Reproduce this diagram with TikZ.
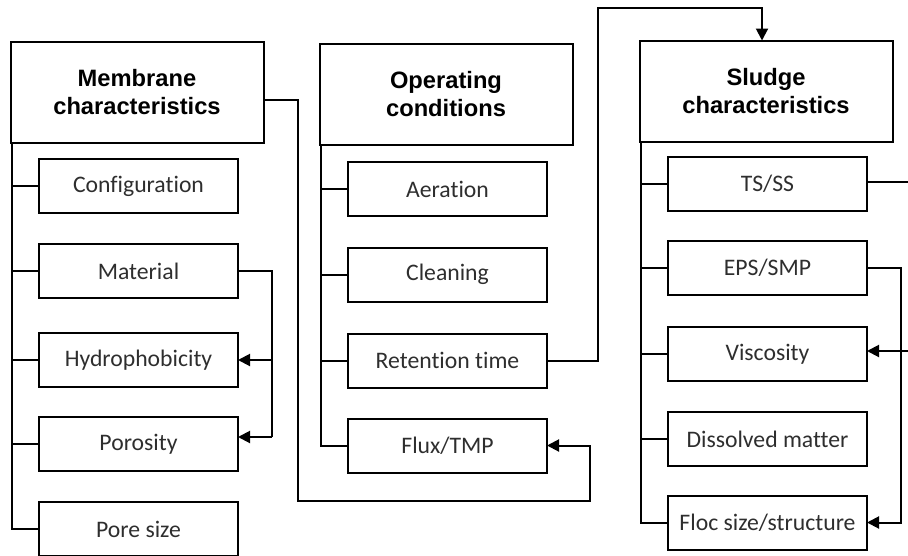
\documentclass[tikz,border=0pt]{standalone}
\usepackage{fontspec}
\setmainfont{Carlito}[Ligatures={NoCommon,NoRequired,NoContextual}]
\newfontfamily\headfont{Liberation Sans}
\usetikzlibrary{arrows.meta}

\tikzset{
  headbox/.style={draw, line width=2pt, inner sep=0pt, outer sep=0pt,
    minimum width=253pt, minimum height=101pt, align=center,
    font=\headfont\bfseries\fontsize{23.7}{28}\selectfont},
  itembox/.style={draw, line width=2pt, inner sep=0pt, outer sep=0pt,
    minimum width=199pt, minimum height=54pt, text=black!82,
    font=\fontsize{23.7}{28}\selectfont},
  link/.style={line width=2pt},
  arrowlink/.style={line width=2pt, -{Triangle[length=12pt,width=12pt]}}
}

\begin{document}
\begin{tikzpicture}[x=1pt, y=-1pt]
\useasboundingbox (0,0) rectangle (908,555);
\clip (0,0) rectangle (908,555);

% column headers
\node[headbox] (mem) at (137,92) {Membrane\\characteristics};
\node[headbox] (ope) at (446,94) {Operating\\conditions};
\node[headbox] (slu) at (766,91) {Sludge\\characteristics};

% membrane items
\node[itembox] (cfg) at (138.5,186) {Configuration};
\node[itembox] (mat) at (138.5,271) {Material};
\node[itembox] (hyd) at (138.5,360) {Hydrophobicity};
\node[itembox] (por) at (138.5,444) {Porosity};
\node[itembox] (pore) at (138.5,529) {Pore size};

% operating items
\node[itembox] (aer) at (447.5,189) {Aeration};
\node[itembox] (cln) at (447.5,274.5) {Cleaning};
\node[itembox] (ret) at (447.5,360.5) {Retention time};
\node[itembox] (flx) at (447.5,445.5) {Flux/TMP};

% sludge items
\node[itembox] (tss) at (767.5,184) {TS/SS};
\node[itembox] (eps) at (767.5,268) {EPS/SMP};
\node[itembox] (vis) at (767.5,354) {Viscosity};
\node[itembox] (dis) at (767.5,439) {Dissolved matter};
\node[itembox] (flc) at (767.5,522.5) {Floc size/structure};

% tree trunks with branches
\coordinate (memT) at ([xshift=1pt]mem.south west);
\draw[link] (memT) |- (pore.west);
\foreach \n in {cfg,mat,hyd,por}
  \draw[link] (\n.west) -- (\n.west -| memT);

\coordinate (opeT) at ([xshift=1pt]ope.south west);
\draw[link] (opeT) |- (flx.west);
\foreach \n in {aer,cln,ret}
  \draw[link] (\n.west) -- (\n.west -| opeT);

\coordinate (sluT) at ([xshift=1pt]slu.south west);
\draw[link] (sluT) |- (flc.west);
\foreach \n in {tss,eps,vis,dis}
  \draw[link] (\n.west) -- (\n.west -| sluT);

% material influences hydrophobicity and porosity
\coordinate (matR) at (272,271);
\coordinate (matB) at (272,437);
\draw[link] (mat.east) -- (matR) -- (matB);
\draw[arrowlink] (hyd.east -| matR) -- (hyd.east);
\draw[arrowlink] (matB) -- (matB -| por.east);

% membrane characteristics feed flux/TMP
\coordinate (m0) at (263,100);
\coordinate (m1) at (298,100);
\coordinate (m2) at (298,501);
\coordinate (m3) at (590,501);
\draw[arrowlink] (m0) -- (m1) -- (m2) -- (m3) |- (flx.east);

% retention time feeds sludge characteristics
\coordinate (r1) at (598,360.5);
\coordinate (r2) at (598,8);
\coordinate (r3) at (762,8);
\draw[arrowlink] (ret.east) -- (r1) -- (r2) -- (r3) -- (r3 |- slu.north);

% sludge links leaving and entering at the right edge
\coordinate (tsOut) at (910,182);
\coordinate (visIn) at (910,351);
\draw[link] (tsOut -| tss.east) -- (tsOut);
\draw[arrowlink] (visIn) -- (visIn -| vis.east);

% EPS/SMP influences floc size/structure
\coordinate (e1) at (901,268);
\draw[arrowlink] (eps.east) -- (e1) |- (flc.east);
\end{tikzpicture}
\end{document}
